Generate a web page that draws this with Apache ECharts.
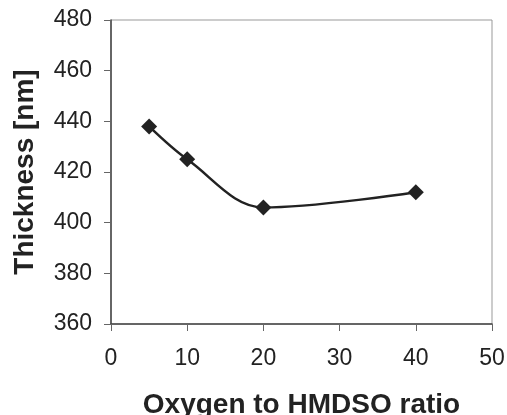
<!DOCTYPE html>
<html><head><meta charset="utf-8">
<script src="https://cdn.jsdelivr.net/npm/echarts@6/dist/echarts.min.js"></script>
<style>html,body{margin:0;padding:0;background:#fff}#c{width:507px;height:415px}</style>
</head><body><div id="c"></div>
<script>
const ratios = [5, 10, 20, 40];
const thickness = [438, 425, 406, 412];
const xTicks = [0, 10, 20, 30, 40, 50];
const yTicks = [360, 380, 400, 420, 440, 460, 480];

const chart = echarts.init(document.getElementById('c'), null, {renderer: 'canvas'});
const font = '"Liberation Sans", Arial, sans-serif';
chart.setOption({
  animation: false,
  grid: {left: 111, right: 15, top: 20, bottom: 91, show: true, borderColor: '#999', borderWidth: 1,
         containLabel: false, outerBoundsMode: 'none'},
  xAxis: {
    type: 'value', min: xTicks[0], max: xTicks[xTicks.length-1], interval: 10,
    name: 'Oxygen to HMDSO ratio', nameLocation: 'middle', nameGap: 67,
    nameTextStyle: {fontFamily: font, fontSize: 28, fontWeight: 'bold', color: '#222'},
    axisLine: {show: true, lineStyle: {color: '#444', width: 1.5}},
    axisTick: {show: true, inside: false, length: 7, lineStyle: {color: '#666'}},
    axisLabel: {fontFamily: font, fontSize: 23, color: '#222', margin: 23},
    splitLine: {show: false}
  },
  yAxis: {
    type: 'value', min: yTicks[0], max: yTicks[yTicks.length-1], interval: 20,
    name: 'Thickness [nm]', nameLocation: 'middle', nameGap: 72,
    nameTextStyle: {fontFamily: font, fontSize: 28, fontWeight: 'bold', color: '#222'},
    axisLine: {show: true, lineStyle: {color: '#444', width: 1.5}},
    axisTick: {show: true, inside: false, length: 7, lineStyle: {color: '#666'}},
    axisLabel: {fontFamily: font, fontSize: 23, color: '#222', margin: 19},
    splitLine: {show: false}
  },
  series: [{
    type: 'line',
    data: ratios.map((x, i) => [x, thickness[i]]),
    smooth: 0.35,
    symbol: 'diamond', symbolSize: 16,
    lineStyle: {color: '#222', width: 2.5},
    itemStyle: {color: '#222'}
  }]
});
</script></body></html>
